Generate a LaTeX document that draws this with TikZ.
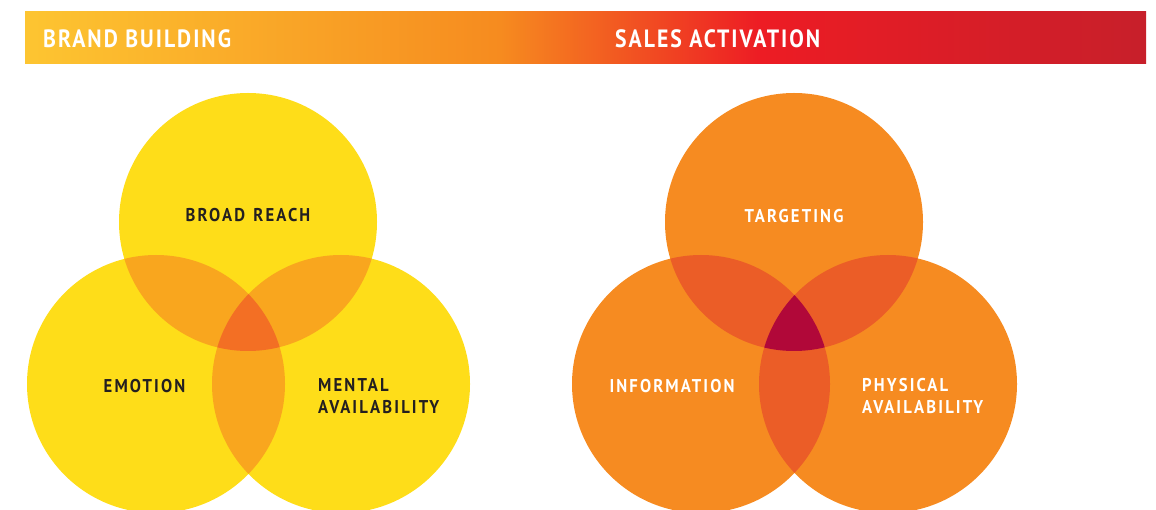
\documentclass[tikz,border=0pt]{standalone}
\usepackage{fontspec}
\setmainfont{PT Sans}
\newfontfamily\hdfont{PT Sans}[FakeStretch=0.87,LetterSpace=8]
\newfontfamily\lblfont{PT Sans}[FakeStretch=0.9,LetterSpace=11.5]
\definecolor{ylw}{HTML}{FEDD19}
\definecolor{ylwtwo}{HTML}{F9A61E}
\definecolor{ylwthree}{HTML}{F36F24}
\definecolor{org}{HTML}{F68B21}
\definecolor{orgtwo}{HTML}{EB5D27}
\definecolor{orgthree}{HTML}{B10839}
\definecolor{gA}{HTML}{FDC531}
\definecolor{gB}{HTML}{F68B1F}
\definecolor{gC}{HTML}{ED1C24}
\definecolor{gD}{HTML}{C71F2A}
\definecolor{txtdark}{HTML}{231F20}
\tikzset{
  hdtext/.style={text=white,inner sep=0pt,font=\hdfont\bfseries\fontsize{25}{25}\selectfont},
  darklbl/.style={text=txtdark,inner sep=0pt,font=\lblfont\bfseries\fontsize{18.5}{21}\selectfont},
  whitelbl/.style={text=white,inner sep=0pt,font=\lblfont\bfseries\fontsize{18.5}{21}\selectfont},
}
\begin{document}
\begin{tikzpicture}[x=1pt,y=-1pt]
\useasboundingbox (0,0) rectangle (1156,510);
\clip (0,0) rectangle (1156,510);
% header bar
\shade[left color=gA,right color=gB] (25,12) rectangle (500.5,64);
\shade[left color=gB,right color=gC] (500,12) rectangle (760.5,64);
\shade[left color=gC,right color=gD] (760,12) rectangle (1146,64);
\node[hdtext,anchor=base west] (hb) at (43,48) {BRAND BUILDING};
\node[hdtext,anchor=base west] (hs) at (615,48) {SALES ACTIVATION};
% left venn
\def\r{129}
\coordinate (LT) at (248,222);
\coordinate (LL) at (156,384);
\coordinate (LR) at (341,384);
\fill[ylw] (LT) circle (\r) (LL) circle (\r) (LR) circle (\r);
\begin{scope}\clip (LT) circle (\r); \fill[ylwtwo] (LL) circle (\r) (LR) circle (\r); \end{scope}
\begin{scope}\clip (LL) circle (\r); \fill[ylwtwo] (LR) circle (\r); \end{scope}
\begin{scope}\clip (LT) circle (\r); \clip (LL) circle (\r); \fill[ylwthree] (LR) circle (\r); \end{scope}
% right venn
\coordinate (RT) at (794,222);
\coordinate (RL) at (701,384);
\coordinate (RR) at (888,384);
\fill[org] (RT) circle (\r) (RL) circle (\r) (RR) circle (\r);
\begin{scope}\clip (RT) circle (\r); \fill[orgtwo] (RL) circle (\r) (RR) circle (\r); \end{scope}
\begin{scope}\clip (RL) circle (\r); \fill[orgtwo] (RR) circle (\r); \end{scope}
\begin{scope}\clip (RT) circle (\r); \clip (RL) circle (\r); \fill[orgthree] (RR) circle (\r); \end{scope}
% labels
\node[darklbl,anchor=base] (br) at (248,222) {BROAD\hspace{2pt} REACH};
\node[darklbl,anchor=base] (em) at (144.5,392) {EMOTION};
\node[darklbl,anchor=base west,align=left] (ma) at (318,413) {MENTAL\\AVAILABILITY};
\node[whitelbl,anchor=base] (tg) at (794,223) {TARGETING};
\node[whitelbl,anchor=base] (inf) at (672,392) {INFORMATION};
\node[whitelbl,anchor=base west,align=left] (pa) at (862,413) {PHYSICAL\\AVAILABILITY};
\end{tikzpicture}
\end{document}
